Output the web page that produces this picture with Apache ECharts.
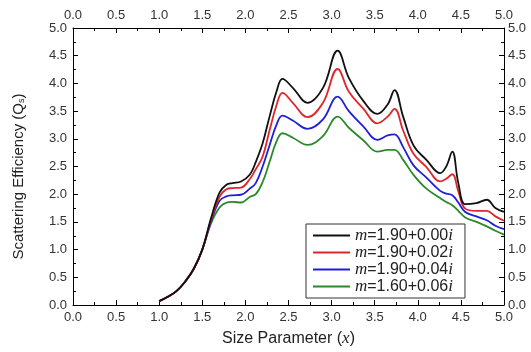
<!DOCTYPE html>
<html>
<head>
<meta charset="utf-8">
<script src="https://cdn.jsdelivr.net/npm/echarts@6/dist/echarts.min.js"></script>
<style>
  html, body { margin: 0; padding: 0; background: #fff; }
  #chart { width: 531px; height: 352px; }
</style>
</head>
<body>
<div id="chart"></div>
<script>
// size parameter samples (shared by all curves)
const sizeParam = [1.0, 1.1, 1.2, 1.3, 1.4, 1.5, 1.6, 1.7, 1.78, 1.85, 1.95, 2.05, 2.12, 2.2, 2.28, 2.36, 2.43, 2.55, 2.72, 2.9, 3.07, 3.2, 3.37, 3.53, 3.65, 3.73, 3.83, 3.95, 4.1, 4.26, 4.33, 4.4, 4.47, 4.55, 4.68, 4.8, 4.9, 5.0]

const q000 = [0.07, 0.15, 0.25, 0.42, 0.65, 1.0, 1.56, 2.03, 2.17, 2.2, 2.23, 2.35, 2.58, 2.92, 3.4, 3.85, 4.08, 3.92, 3.65, 3.92, 4.59, 4.1, 3.68, 3.45, 3.62, 3.88, 3.4, 2.88, 2.62, 2.38, 2.5, 2.77, 2.2, 1.82, 1.84, 1.9, 1.75, 1.68]
const q002 = [0.07, 0.15, 0.25, 0.42, 0.65, 1.0, 1.53, 1.95, 2.09, 2.11, 2.12, 2.27, 2.45, 2.68, 3.15, 3.6, 3.83, 3.65, 3.39, 3.65, 4.26, 3.85, 3.54, 3.28, 3.4, 3.54, 3.15, 2.73, 2.49, 2.23, 2.28, 2.36, 2.05, 1.74, 1.7, 1.7, 1.6, 1.52]
const q004 = [0.07, 0.15, 0.25, 0.42, 0.65, 1.0, 1.5, 1.88, 1.96, 1.98, 1.99, 2.1, 2.2, 2.5, 2.88, 3.25, 3.42, 3.33, 3.18, 3.35, 3.76, 3.5, 3.22, 2.98, 3.06, 3.08, 2.85, 2.52, 2.3, 2.06, 2.01, 1.98, 1.85, 1.68, 1.6, 1.53, 1.43, 1.37]
const q006 = [0.07, 0.15, 0.25, 0.42, 0.65, 1.0, 1.47, 1.76, 1.85, 1.86, 1.85, 1.95, 2.0, 2.22, 2.58, 2.95, 3.1, 3.02, 2.89, 3.05, 3.4, 3.2, 2.97, 2.77, 2.8, 2.8, 2.62, 2.35, 2.1, 1.93, 1.86, 1.8, 1.7, 1.58, 1.5, 1.42, 1.34, 1.27]

const seriesNames = ["m=1.90+0.00i", "m=1.90+0.02i", "m=1.90+0.04i", "m=1.60+0.06i"]
const seriesColors = ["#111111", "#e0262c", "#1f1fd6", "#2a8a2a"]
const seriesValues = [q000, q002, q004, q006]

const font = "Arial, 'Liberation Sans', sans-serif"
const serif = "'Liberation Serif', 'Times New Roman', serif"

const tickLabel = (margin) => ({
  show: true,
  color: "#333",
  fontSize: 13,
  fontFamily: font,
  margin,
  formatter: (v) => v.toFixed(1)
})

const makeAxis = (extra) => ({
  type: "value",
  min: 0,
  max: 5,
  interval: 0.5,
  axisLine: { show: true, onZero: false, lineStyle: { color: "#000", width: 1 } },
  axisTick: { show: true, inside: true, length: 5, lineStyle: { color: "#000" } },
  minorTick: { show: true, splitNumber: 2, length: 3, lineStyle: { color: "#000" } },
  splitLine: { show: false },
  ...extra
})

const chart = echarts.init(document.getElementById("chart"), null, { renderer: "canvas" })

chart.setOption({
  animation: false,
  backgroundColor: "#fff",
  grid: { left: 73, right: 27, top: 28, bottom: 44, containLabel: false },
  xAxis: [
    makeAxis({
      position: "bottom",
      name: "Size Parameter ({it|x})",
      nameLocation: "middle",
      nameGap: 25,
      nameTextStyle: {
        color: "#222",
        fontSize: 16,
        fontFamily: font,
        rich: { it: { fontFamily: serif, fontStyle: "italic", fontSize: 17, color: "#222" } }
      },
      axisLabel: tickLabel(6)
    }),
    makeAxis({ position: "top", axisLabel: tickLabel(6) })
  ],
  yAxis: [
    makeAxis({
      position: "left",
      name: "Scattering Efficiency (Q{sub|s})",
      nameLocation: "middle",
      nameGap: 47,
      nameRotate: 90,
      nameTextStyle: {
        color: "#222",
        fontSize: 15,
        fontFamily: font,
        padding: [0, 20, 0, 0],
        rich: { sub: { fontSize: 9, fontFamily: font, color: "#222", verticalAlign: "bottom", lineHeight: 10, padding: [8, 0, 0, 0] } }
      },
      axisLabel: tickLabel(6)
    }),
    makeAxis({ position: "right", axisLabel: tickLabel(4) })
  ],
  legend: {
    orient: "vertical",
    left: 306,
    top: 224,
    padding: [3, 12, 3, 7],
    itemGap: 0,
    itemWidth: 37,
    itemHeight: 2,
    icon: "rect",
    borderColor: "#333",
    borderWidth: 1,
    borderRadius: 0,
    backgroundColor: "#fff",
    data: seriesNames,
    formatter: (name) => "{it|m}" + name.slice(1, -1) + "{it|i}",
    textStyle: {
      color: "#222",
      fontSize: 16,
      fontFamily: font,
      lineHeight: 17,
      rich: { it: { fontFamily: serif, fontStyle: "italic", fontSize: 17, color: "#222", lineHeight: 17 } }
    }
  },
  series: seriesNames.map((name, i) => ({
    name,
    type: "line",
    xAxisIndex: 0,
    yAxisIndex: 0,
    smooth: 0.4,
    symbol: "none",
    color: seriesColors[i],
    lineStyle: { width: 1.8, color: seriesColors[i] },
    data: sizeParam.map((x, j) => [x, seriesValues[i][j]]),
    z: 10 - i
  }))
})
</script>
</body>
</html>
